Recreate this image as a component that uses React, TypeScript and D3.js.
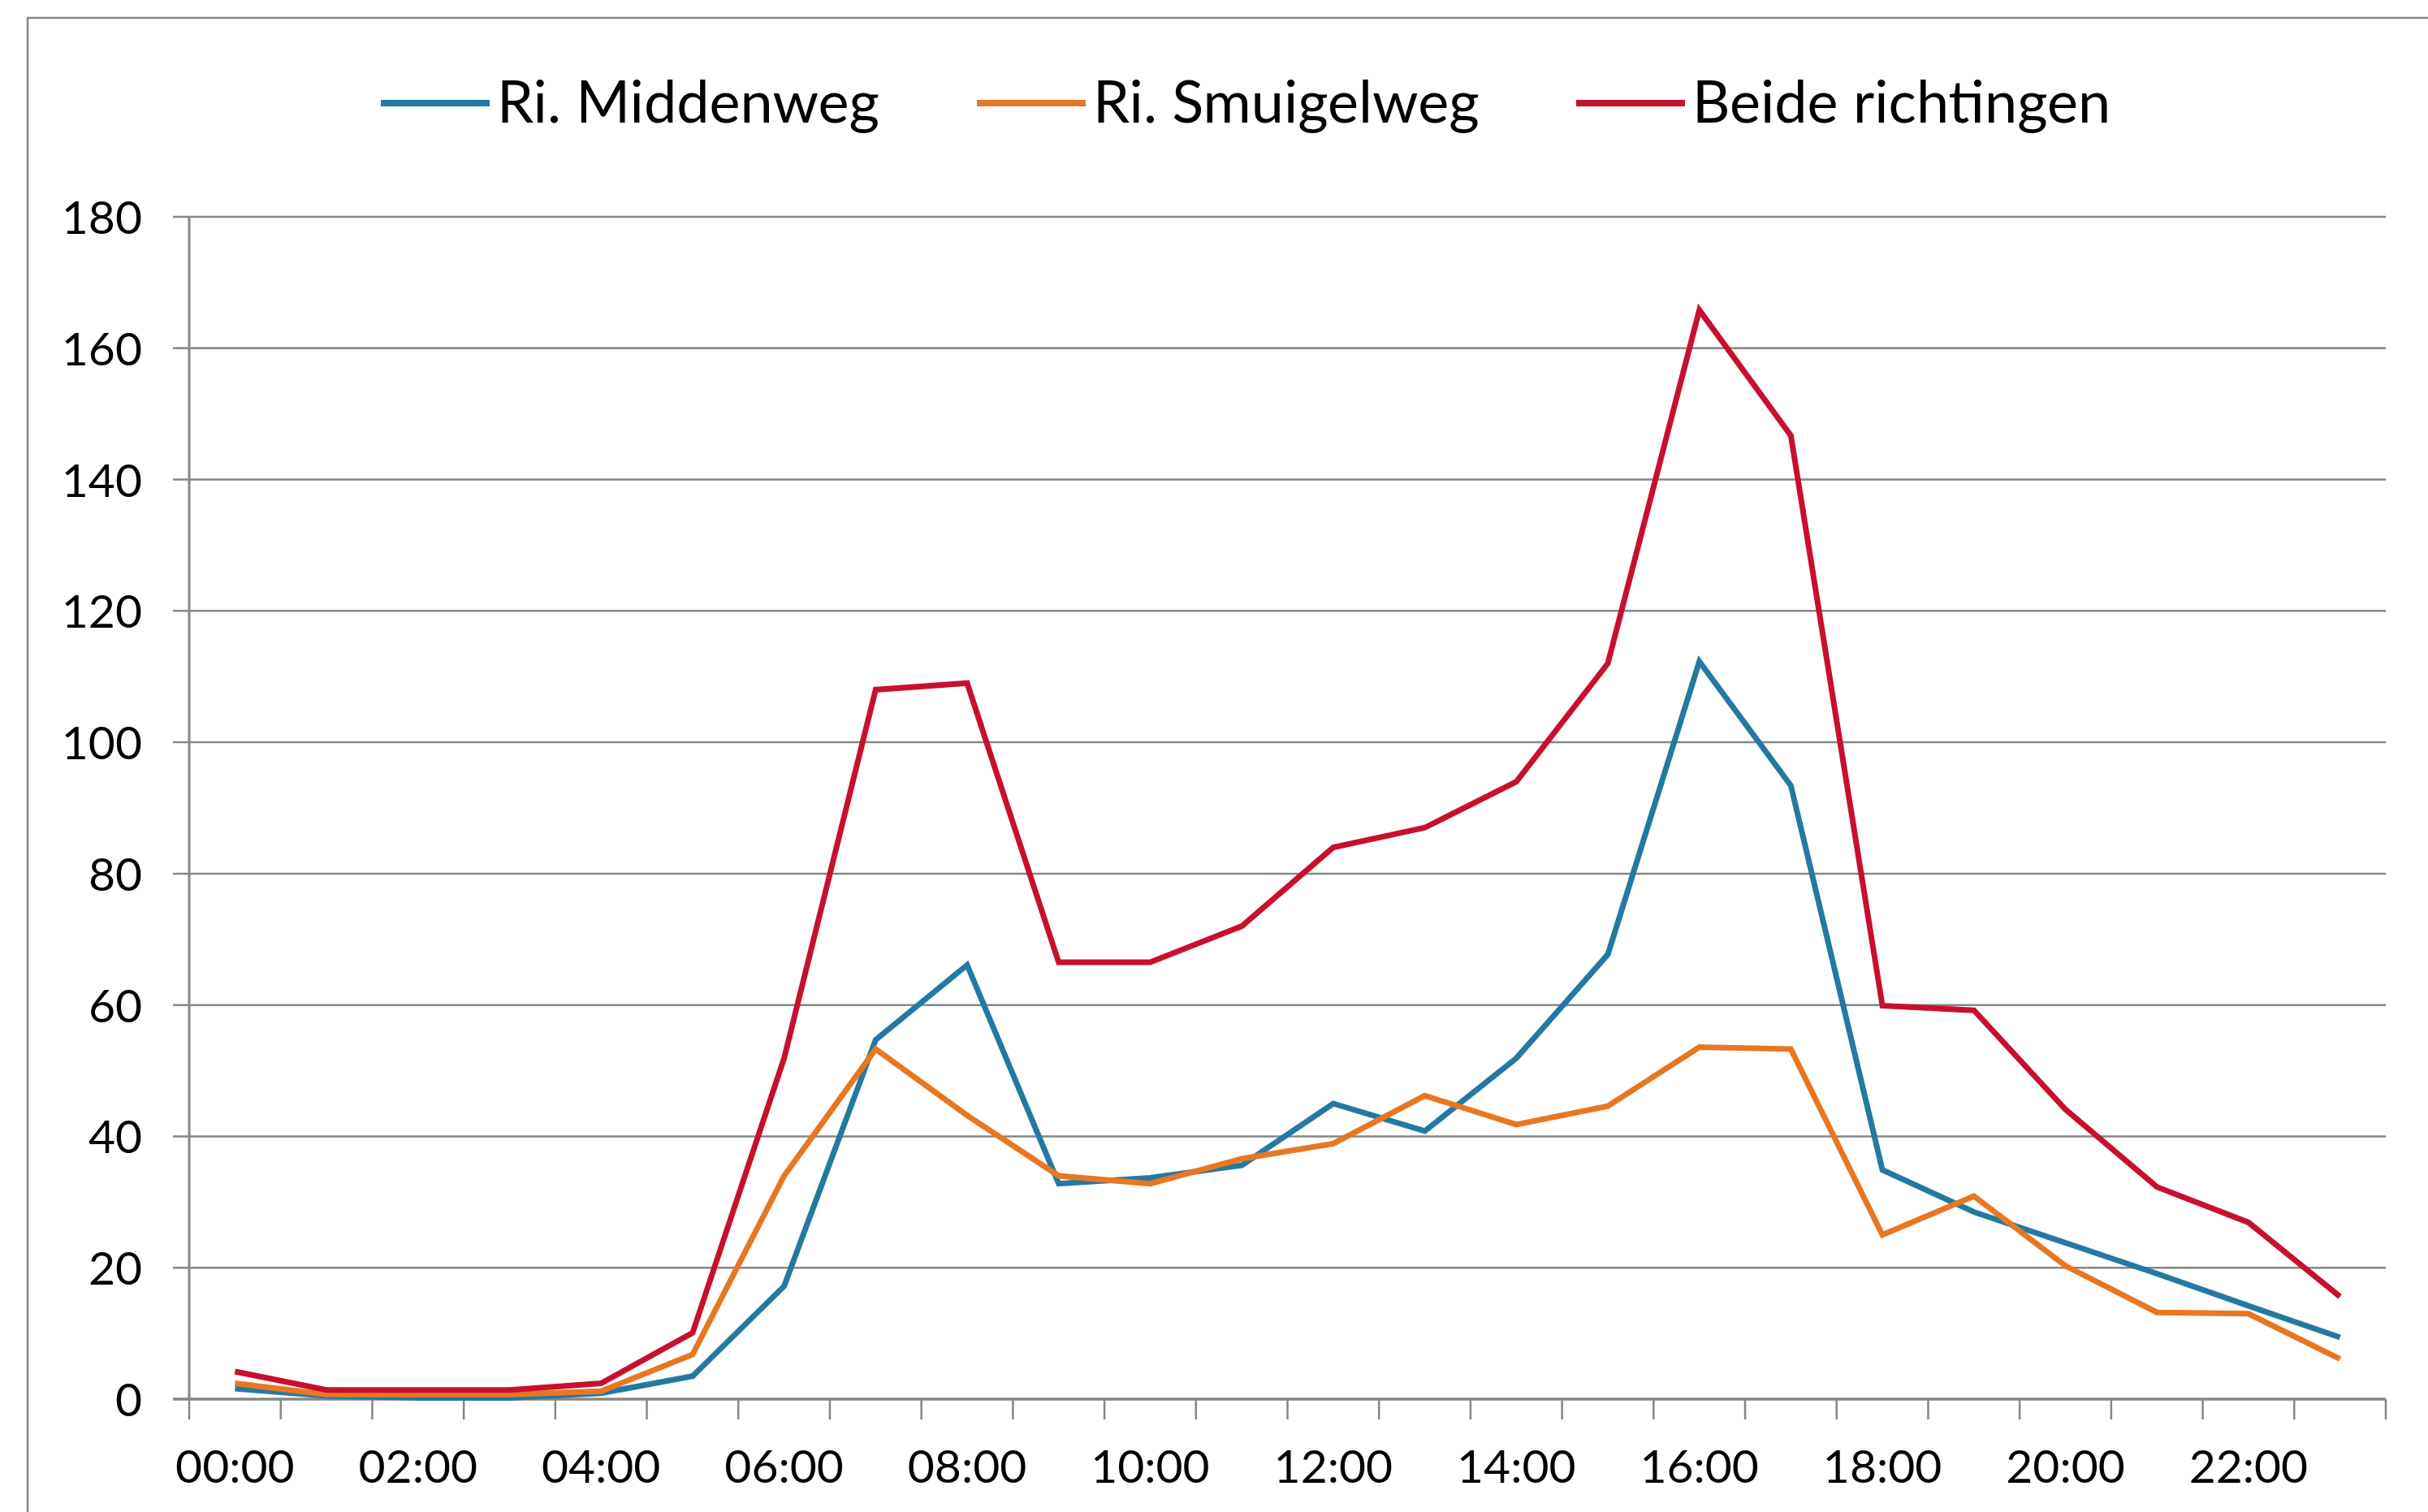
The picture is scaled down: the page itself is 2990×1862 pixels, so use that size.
import * as d3 from 'd3';

const hours = d3.range(24).map((h) => `${String(h).padStart(2, '0')}:00`);

const middenweg = [1.6, 0.5, 0.2, 0.2, 0.9, 3.5, 17.2, 54.7, 66.1, 32.8, 33.7, 35.6, 45, 40.8, 51.9, 67.7, 112.3, 93.4, 34.9, 28.5, 23.8, 19.1, 14.2, 9.4];
const smuigelweg = [2.4, 0.7, 0.7, 0.7, 1.2, 6.8, 34, 53.3, 43.2, 34, 32.8, 36.6, 38.9, 46.2, 41.8, 44.6, 53.6, 53.3, 25, 30.9, 20.3, 13.2, 13, 6.1];
const beide = [4.2, 1.4, 1.4, 1.4, 2.4, 10.1, 51.9, 108, 109, 66.5, 66.5, 72, 84, 87, 94, 112, 165.8, 146.7, 59.9, 59.2, 44.1, 32.3, 26.9, 15.6];

const yTicks = [0, 20, 40, 60, 80, 100, 120, 140, 160, 180];

const series = [
  { name: 'Ri. Middenweg', values: middenweg, color: '#2479a2' },
  { name: 'Ri. Smuigelweg', values: smuigelweg, color: '#e87722' },
  { name: 'Beide richtingen', values: beide, color: '#c8102e' },
];

const W = 2990;
const H = 1862;
const plot = { left: 233, right: 2938, top: 267, bottom: 1723 };
const font = 'Lato, "Open Sans", sans-serif';
const gridColor = '#868686';

export default function App() {
  const x = d3.scaleBand().domain(hours).range([plot.left, plot.right]).padding(0);
  const y = d3.scaleLinear().domain([0, 180]).range([plot.bottom, plot.top]);

  const line = d3.line<number>()
    .x((_, i) => (x(hours[i]) ?? 0) + x.bandwidth() / 2)
    .y((d) => y(d));

  // legend items, positions
  const legendX = [469, 1203, 1941];

  return (
    <svg width={W} height={H} viewBox={`0 0 ${W} ${H}`}
      style={{ position: 'absolute', left: 0, top: 0, display: 'block', background: '#fff' }}>
      <rect x={34} y={22} width={3100} height={2000} fill="#fff" stroke={gridColor} strokeWidth={2.5} />

      {/* legend */}
      {series.map((s, i) => (
        <g key={s.name} transform={`translate(${legendX[i]},0)`}>
          <line x1={0} x2={134} y1={127} y2={127} stroke={s.color} strokeWidth={8} />
          <text x={143} y={151} fontFamily={font} fontSize={72} fill="#000">{s.name}</text>
        </g>
      ))}

      {/* horizontal gridlines */}
      {yTicks.map((t) => (
        <g key={t}>
          {t > 0 && (
            <line x1={plot.left - 20} x2={plot.right} y1={y(t)} y2={y(t)} stroke={gridColor} strokeWidth={2.5} />
          )}
          <text x={175} y={y(t) + 21} textAnchor="end" fontFamily={font} fontSize={57} fill="#000">{t}</text>
        </g>
      ))}

      {/* y axis */}
      <line x1={plot.left} x2={plot.left} y1={plot.top} y2={plot.bottom} stroke={gridColor} strokeWidth={3} />

      {/* x axis */}
      <line x1={plot.left - 20} x2={plot.right} y1={plot.bottom} y2={plot.bottom} stroke={gridColor} strokeWidth={3.5} />
      {hours.map((h) => (
        <line key={h} x1={x(h)} x2={x(h)} y1={plot.bottom} y2={plot.bottom + 25} stroke={gridColor} strokeWidth={2.5} />
      ))}
      <line x1={plot.right} x2={plot.right} y1={plot.bottom} y2={plot.bottom + 25} stroke={gridColor} strokeWidth={2.5} />
      {hours.filter((_, i) => i % 2 === 0).map((h) => (
        <text key={h} x={(x(h) ?? 0) + x.bandwidth() / 2} y={1826} textAnchor="middle"
          fontFamily={font} fontSize={57} fill="#000">{h}</text>
      ))}

      {/* series */}
      {series.map((s) => (
        <path key={s.name} d={line(s.values) ?? ''} fill="none" stroke={s.color}
          strokeWidth={7} strokeLinejoin="miter" strokeMiterlimit={4} />
      ))}
    </svg>
  );
}
